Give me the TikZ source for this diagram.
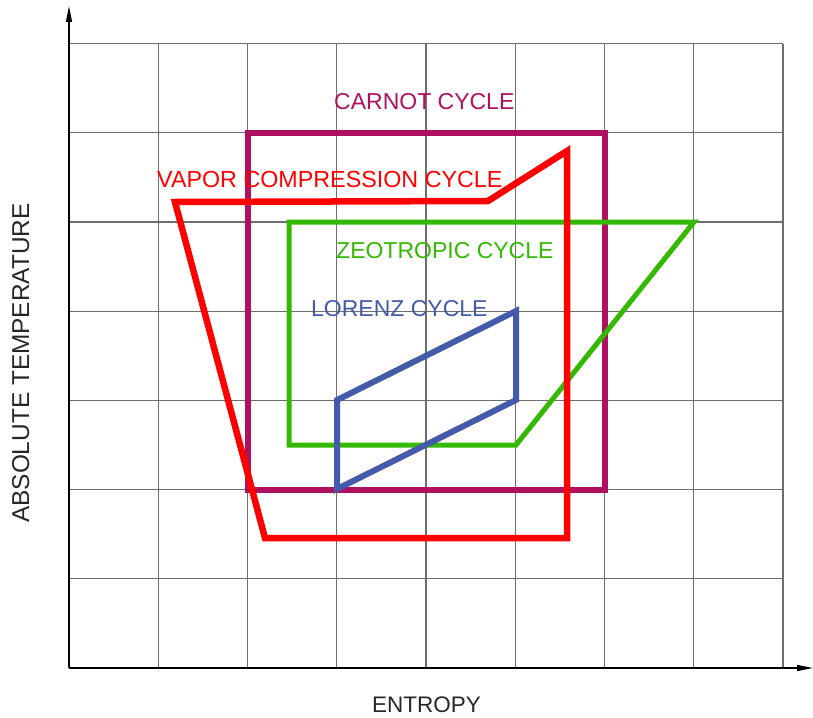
\documentclass[tikz,border=0pt]{standalone}
\usepackage{fontspec}
\setmainfont{Liberation Sans}
\usetikzlibrary{arrows.meta}
\definecolor{carnotc}{RGB}{176,16,96}
\definecolor{vaporc}{RGB}{255,0,0}
\definecolor{zeoc}{RGB}{50,185,0}
\definecolor{lorc}{RGB}{68,91,170}
\definecolor{gridc}{RGB}{110,110,110}
\tikzset{
  gridline/.style={draw=gridc, line width=1.3pt},
  axisline/.style={draw=black, line width=1.4pt, -{Triangle[length=16pt,width=6pt]}},
  cyc/.style={line width=6pt, line join=miter},
  lbl/.style={anchor=base west, inner sep=0pt, font=\fontsize{23}{24}\selectfont},
}
\begin{document}
\begin{tikzpicture}[x=1pt,y=-1pt]
\useasboundingbox (0,0) rectangle (813,717);
% grid
\foreach \xx in {158.25,247.5,336.75,426,515.25,604.5,693.75,783}
  \draw[gridline] (\xx,43.6) -- (\xx,668);
\foreach \yy in {43.6,132.8,222,311.2,400.4,489.6,578.8}
  \draw[gridline] (69,\yy) -- (783,\yy);
% axes
\coordinate (o) at (69,668);
\coordinate (ytop) at (69,6);
\coordinate (xend) at (813,668);
\draw[axisline] (o) -- (ytop);
\draw[axisline] (o) -- (xend);
% Carnot cycle
\coordinate (c1) at (247.5,132.8);
\coordinate (c2) at (604.5,132.8);
\coordinate (c3) at (604.5,489.6);
\coordinate (c4) at (247.5,489.6);
\draw[cyc, carnotc] (c1) -- (c2) -- (c3) -- (c4) -- cycle;
% Zeotropic cycle
\coordinate (z1) at (289,222);
\coordinate (z2) at (694,222);
\coordinate (z3) at (516,445);
\coordinate (z4) at (289,445);
\draw[cyc, zeoc, line width=5pt] (z1) -- (z2) -- (z3) -- (z4) -- cycle;
% Vapor compression cycle
\coordinate (v1) at (175,202);
\coordinate (v2) at (488,201);
\coordinate (v3) at (567,151);
\coordinate (v4) at (567,538);
\coordinate (v5) at (265,538);
\draw[cyc, vaporc, line width=6.5pt] (v1) -- (v2) -- (v3) -- (v4) -- (v5) -- cycle;
% Lorenz cycle
\coordinate (l1) at (337,400);
\coordinate (l2) at (516,311);
\coordinate (l3) at (516,400);
\coordinate (l4) at (337,489);
\draw[cyc, lorc] (l1) -- (l2) -- (l3) -- (l4) -- cycle;
% labels
\node[lbl, text=carnotc] (tc) at (334,109) {CARNOT CYCLE};
\node[lbl, text=vaporc, font=\fontsize{23.3}{24}\selectfont] (tv) at (157,187) {VAPOR COMPRESSION CYCLE};
\node[lbl, text=zeoc] (tz) at (336,258) {ZEOTROPIC CYCLE};
\node[lbl, text=lorc] (tl) at (311,316) {LORENZ CYCLE};
\node[lbl, text=black!85, font=\fontsize{22.5}{24}\selectfont] (tx) at (372,712) {ENTROPY};
\node[lbl, text=black!85, rotate=90, font=\fontsize{24.4}{26}\selectfont] (ty) at (29,523) {ABSOLUTE TEMPERATURE};
\end{tikzpicture}
\end{document}
